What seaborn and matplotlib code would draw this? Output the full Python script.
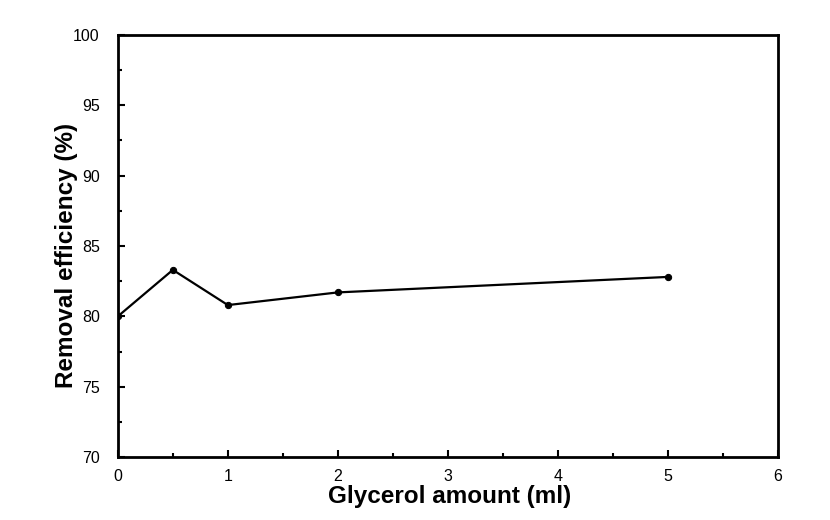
import matplotlib
matplotlib.use("Agg")
import matplotlib.pyplot as plt
import seaborn as sns
import pandas as pd
from matplotlib.ticker import MultipleLocator

glycerol_ml = [0, 0.5, 1, 2, 5]
removal_eff = [80.0, 83.3, 80.8, 81.7, 82.8]

sns.set_style("white")
plt.rcParams['font.family'] = ['Liberation Sans', 'DejaVu Sans']

df = pd.DataFrame({'Glycerol': glycerol_ml, 'Removal': removal_eff})

fig = plt.figure(figsize=(8.3, 5.2), dpi=100)
ax = fig.add_axes([0.142, 0.121, 0.795, 0.812])

sns.lineplot(x='Glycerol', y='Removal', data=df, ax=ax, color='black',
             linewidth=1.6, marker='o', markersize=4.5, markeredgecolor='black')

ax.set_xlim(0, 6)
ax.set_ylim(70, 100)
ax.xaxis.set_major_locator(MultipleLocator(1))
ax.xaxis.set_minor_locator(MultipleLocator(0.5))
ax.yaxis.set_major_locator(MultipleLocator(5))
ax.yaxis.set_minor_locator(MultipleLocator(2.5))

ax.tick_params(which='both', direction='in', top=False, right=False,
               color='black', width=1.5, labelsize=11.5, labelcolor='black')
ax.tick_params(which='major', length=5)
ax.tick_params(which='minor', length=3)
ax.tick_params(axis='y', which='major', pad=13)
ax.tick_params(axis='x', which='major', pad=8.5)
ax.tick_params(axis='both', which='both', left=True, bottom=True)

for s in ax.spines.values():
    s.set_color('black')
    s.set_linewidth(2)

ax.set_xlabel('Glycerol amount (ml)', fontsize=17.5, fontweight='bold', color='black')
ax.set_ylabel('Removal efficiency (%)', fontsize=17.5, fontweight='bold', color='black')
ax.xaxis.set_label_coords(0.503, -0.066)
ax.yaxis.set_label_coords(-0.06, 0.4775)

fig.savefig('out.png', dpi=100)
